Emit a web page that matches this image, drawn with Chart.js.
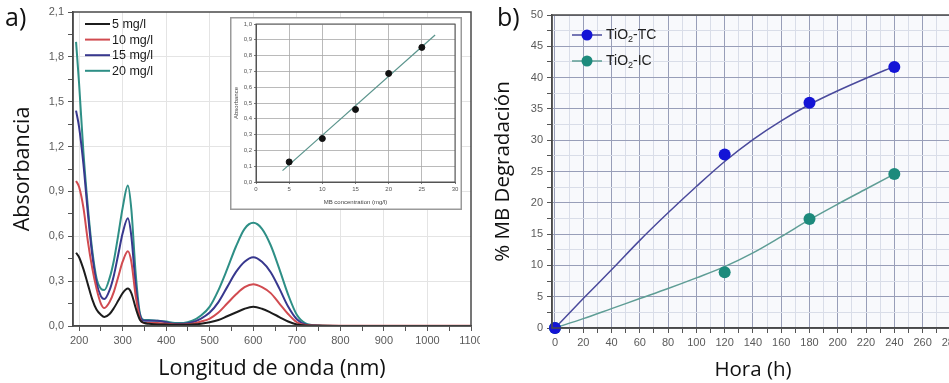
<!DOCTYPE html>
<html>
<head>
<meta charset="utf-8">
<script src="https://cdn.jsdelivr.net/npm/chart.js@4.4.0/dist/chart.umd.min.js"></script>
<style>
  html, body { margin: 0; padding: 0; background: #fff; width: 949px; height: 383px; overflow: hidden; position: relative; }
  canvas { position: absolute; display: block; }
  #spectra { left: 0; top: 0; }
  #calibration { left: 230px; top: 17px; }
  #degradation { left: 480px; top: 0; }
  .tag { position: absolute; font-family: "Open Sans", sans-serif; font-size: 25px; color: #111; line-height: 1; }
</style>
</head>
<body>
<canvas id="spectra" width="480" height="383"></canvas>
<canvas id="degradation" width="480" height="383"></canvas>
<canvas id="calibration" width="232" height="193"></canvas>
<div class="tag" style="left:5px;top:4px;">a)</div>
<div class="tag" style="left:497px;top:4px;">b)</div>
<script>
// ---- (a) UV-Vis absorption spectra of methylene blue ----
const wavelengths = [193, 200, 210, 220, 230, 240, 250, 258,
  270, 280, 290, 300, 312, 320, 330, 340, 350,
  360, 380, 400, 420, 440, 460,
  480, 500, 520, 540, 560, 580, 600,
  620, 640, 660, 680, 700, 720,
  750, 800, 900, 1000, 1100];
const abs5mg = [0.49, 0.46, 0.38, 0.28, 0.18, 0.11, 0.075, 0.06,
  0.08, 0.12, 0.17, 0.22, 0.25, 0.22, 0.12, 0.04, 0.02,
  0.015, 0.01, 0.01, 0.008, 0.008, 0.01,
  0.015, 0.025, 0.04, 0.065, 0.09, 0.115, 0.128,
  0.115, 0.09, 0.06, 0.03, 0.01, 0.003,
  0.001, 0, 0, 0, 0];
const abs10mg = [0.97, 0.93, 0.79, 0.57, 0.39, 0.25, 0.15, 0.12,
  0.16, 0.23, 0.33, 0.43, 0.50, 0.43, 0.20, 0.05, 0.02,
  0.02, 0.02, 0.015, 0.01, 0.01, 0.015,
  0.03, 0.05, 0.09, 0.15, 0.21, 0.26, 0.28,
  0.26, 0.22, 0.15, 0.08, 0.025, 0.006,
  0.003, 0.002, 0.002, 0.002, 0.002];
const abs15mg = [1.44, 1.33, 1.08, 0.76, 0.48, 0.29, 0.20, 0.18,
  0.24, 0.34, 0.48, 0.62, 0.72, 0.60, 0.27, 0.07, 0.035,
  0.035, 0.035, 0.025, 0.015, 0.015, 0.025,
  0.05, 0.09, 0.16, 0.26, 0.36, 0.43, 0.46,
  0.43, 0.36, 0.25, 0.13, 0.045, 0.01,
  0.002, 0, 0, 0, 0];
const abs20mg = [1.90, 1.62, 1.16, 0.80, 0.51, 0.32, 0.25, 0.24,
  0.32, 0.44, 0.61, 0.79, 0.94, 0.78, 0.35, 0.08, 0.04,
  0.04, 0.035, 0.03, 0.02, 0.02, 0.035,
  0.07, 0.13, 0.24, 0.38, 0.53, 0.65, 0.69,
  0.65, 0.54, 0.38, 0.21, 0.075, 0.018,
  0.003, 0, 0, 0, 0];
const spectraLabels = ['5 mg/l', '10 mg/l', '15 mg/l', '20 mg/l'];
const spectraColors = ['#1c1c1c', '#d14b50', '#38388e', '#2e8f86'];

// ---- calibration inset ----
const concentrations = [5, 10, 15, 20, 25];
const calibrationAbs = [0.127, 0.275, 0.459, 0.687, 0.852];
const fitConc = [4, 27];
const fitAbs = [0.072, 0.93];

// ---- (b) photocatalytic degradation ----
const hours = [0, 120, 180, 240];
const degradationTC = [0, 27.7, 36.0, 41.7];
const degradationIC = [0, 8.9, 17.4, 24.6];
const curveHours = [0, 20, 40, 60, 80, 100, 120, 140, 160, 180, 200, 220, 240];
const curveTC = [0, 4.7, 9.3, 14.0, 18.4, 22.6, 26.6, 30.1, 33.1, 35.7, 37.9, 39.9, 41.8];
const curveIC = [0, 1.5, 3.1, 4.7, 6.3, 8.0, 9.8, 12.0, 14.6, 17.3, 19.8, 22.2, 24.6];
const degradationLabels = ['TC', 'IC'];
const markerColors = ['#1414d6', '#1d8a7c'];
const curveColors = ['#4a4a9c', '#5e9d95'];

const TICK_FONT = { family: '"Liberation Sans", Arial, sans-serif', size: 11 };
const TITLE_A = { family: '"Open Sans", sans-serif', size: 21.5 };
const TITLE_B = { family: '"Open Sans", sans-serif', size: 20.5 };

function stepTicks(from, to, step) {
  const out = [];
  const n = Math.round((to - from) / step);
  for (let i = 0; i <= n; i++) out.push({ value: +(from + i * step).toFixed(4) });
  return out;
}
function fixBox(size, dim) {
  return function (scale) {
    scale[dim] = size;
    scale.paddingLeft = scale.paddingRight = scale.paddingTop = scale.paddingBottom = 0;
  };
}
const comma = v => v.toFixed(1).replace('.', ',');

// plot-area background and frame
const framePlugin = {
  id: 'frame',
  beforeDraw(chart, args, opts) {
    const { ctx, chartArea: a } = chart;
    ctx.save();
    if (opts.canvasFill) { ctx.fillStyle = opts.canvasFill; ctx.fillRect(0, 0, chart.width, chart.height); }
    if (opts.fill) { ctx.fillStyle = opts.fill; ctx.fillRect(a.left, a.top, a.width, a.height); }
    ctx.restore();
  },
  afterDraw(chart, args, opts) {
    const { ctx, chartArea: a } = chart;
    ctx.save();
    ctx.strokeStyle = opts.color || '#444';
    ctx.lineWidth = opts.width || 1.5;
    ctx.strokeRect(a.left, a.top, a.width, a.height);
    if (opts.outer) {
      ctx.strokeStyle = opts.outer;
      ctx.lineWidth = 1.5;
      ctx.strokeRect(0.75, 0.75, chart.width - 1.5, chart.height - 1.5);
    }
    ctx.restore();
  }
};

// legend of the spectra panel
const spectraLegend = {
  id: 'spectraLegend',
  afterDraw(chart) {
    const ctx = chart.ctx;
    ctx.save();
    ctx.font = '12.5px "Liberation Sans", Arial, sans-serif';
    ctx.textBaseline = 'middle';
    spectraLabels.forEach((label, i) => {
      const y = 24 + i * 15.6;
      ctx.strokeStyle = spectraColors[i];
      ctx.lineWidth = 2;
      ctx.beginPath(); ctx.moveTo(85, y); ctx.lineTo(110, y); ctx.stroke();
      ctx.fillStyle = '#1a1a1a';
      ctx.fillText(label, 112, y + 0.5);
    });
    ctx.restore();
  }
};

// legend of the degradation panel (line with marker, TiO2 with subscript)
const degradationLegend = {
  id: 'degradationLegend',
  afterDraw(chart) {
    const ctx = chart.ctx;
    ctx.save();
    ctx.textBaseline = 'middle';
    degradationLabels.forEach((suffix, i) => {
      const y = 35 + i * 26;
      ctx.strokeStyle = curveColors[i];
      ctx.lineWidth = 1.5;
      ctx.beginPath(); ctx.moveTo(92, y); ctx.lineTo(122, y); ctx.stroke();
      ctx.fillStyle = markerColors[i];
      ctx.beginPath(); ctx.arc(107, y, 5.5, 0, Math.PI * 2); ctx.fill();
      ctx.fillStyle = '#222';
      let x = 126;
      ctx.font = '14px "Liberation Sans", Arial, sans-serif';
      ctx.fillText('TiO', x, y); x += ctx.measureText('TiO').width;
      ctx.font = '9px "Liberation Sans", Arial, sans-serif';
      ctx.fillText('2', x, y + 5); x += ctx.measureText('2').width;
      ctx.font = '14px "Liberation Sans", Arial, sans-serif';
      ctx.fillText('-' + suffix, x, y);
    });
    ctx.restore();
  }
};

const spectraSets = [abs5mg, abs10mg, abs15mg, abs20mg].map((vals, i) => ({
  label: spectraLabels[i],
  data: wavelengths.map((w, j) => ({ x: w, y: vals[j] })),
  borderColor: spectraColors[i],
  borderWidth: 2,
  pointRadius: 0,
  cubicInterpolationMode: 'monotone',
  fill: false
}));

new Chart(document.getElementById('spectra'), {
  type: 'line',
  data: { datasets: spectraSets },
  plugins: [framePlugin, spectraLegend],
  options: {
    responsive: false, animation: false, events: [],
    layout: { padding: { left: 0, top: 12, right: 9, bottom: 0 } },
    plugins: { legend: { display: false }, tooltip: { enabled: false },
      frame: { color: '#4a4a4a', width: 1.5 } },
    scales: {
      x: {
        type: 'linear', min: 186, max: 1100,
        afterBuildTicks: s => { s.ticks = stepTicks(200, 1100, 50); },
        afterFit: fixBox(57, 'height'),
        ticks: { autoSkip: false, maxRotation: 0, font: TICK_FONT, color: '#5a5a5a', padding: 3,
          callback: v => (v % 100 === 0 ? String(v) : '') },
        grid: { color: c => (c.tick && c.tick.value % 100 === 0 && c.tick.value < 1100 ? '#e4e4e4' : 'rgba(0,0,0,0)'),
          tickColor: '#555', tickLength: 5, lineWidth: 1 },
        border: { color: '#4a4a4a', width: 1.5 },
        title: { display: true, text: 'Longitud de onda (nm)', font: TITLE_A, color: '#111', padding: { top: 0, bottom: 1 } }
      },
      y: {
        type: 'linear', min: 0, max: 2.1,
        afterBuildTicks: s => { s.ticks = stepTicks(0, 2.1, 0.15); },
        afterFit: fixBox(73, 'width'),
        ticks: { autoSkip: false, font: TICK_FONT, color: '#5a5a5a', padding: 4,
          callback: (v, i) => (i % 2 === 0 ? comma(v) : '') },
        grid: { color: c => (c.index % 2 === 0 && c.index > 0 && c.index < 14 ? '#e4e4e4' : 'rgba(0,0,0,0)'),
          tickColor: '#555', tickLength: 5 },
        border: { color: '#4a4a4a', width: 1.5 },
        title: { display: true, text: 'Absorbancia', font: TITLE_A, color: '#111', padding: { top: 10, bottom: 0 } }
      }
    }
  }
});

// calibration inset
const INSET_FONT = { family: '"Liberation Sans", Arial, sans-serif', size: 6 };
new Chart(document.getElementById('calibration'), {
  type: 'scatter',
  data: {
    datasets: [
      { label: 'MB', data: concentrations.map((c, i) => ({ x: c, y: calibrationAbs[i] })),
        backgroundColor: '#111', borderColor: '#111', pointRadius: 3 },
      { label: 'fit', data: fitConc.map((c, i) => ({ x: c, y: fitAbs[i] })), showLine: true,
        borderColor: '#5a948c', borderWidth: 1.2, pointRadius: 0 }
    ]
  },
  plugins: [framePlugin],
  options: {
    responsive: false, animation: false, events: [],
    layout: { padding: { left: 0, top: 7, right: 7, bottom: 0 } },
    plugins: { legend: { display: false }, tooltip: { enabled: false },
      frame: { color: '#555', width: 1, canvasFill: '#fff', outer: '#9a9a9a' } },
    scales: {
      x: {
        type: 'linear', min: 0, max: 30,
        afterBuildTicks: s => { s.ticks = stepTicks(0, 30, 5); },
        afterFit: fixBox(28, 'height'),
        ticks: { autoSkip: false, maxRotation: 0, font: INSET_FONT, color: '#555', padding: 2 },
        grid: { color: '#a8a8a8', lineWidth: 0.8, tickColor: '#555', tickLength: 2 },
        border: { color: '#555', width: 1 },
        title: { display: true, text: 'MB concentration (mg/l)', font: INSET_FONT, color: '#444', padding: { top: 0, bottom: 4 } }
      },
      y: {
        type: 'linear', min: 0, max: 1,
        afterBuildTicks: s => { s.ticks = stepTicks(0, 1, 0.1); },
        afterFit: fixBox(26, 'width'),
        ticks: { autoSkip: false, font: INSET_FONT, color: '#555', padding: 2, callback: v => comma(v) },
        grid: { color: '#a8a8a8', lineWidth: 0.8, tickColor: '#555', tickLength: 2 },
        border: { color: '#555', width: 1 },
        title: { display: true, text: 'Absorbance', font: INSET_FONT, color: '#444', padding: { top: 3, bottom: 0 } }
      }
    }
  }
});

// degradation panel; datasets listed first are painted on top
const markerSets = [degradationTC, degradationIC].map((vals, i) => ({
  label: 'TiO2-' + degradationLabels[i], data: hours.map((h, j) => ({ x: h, y: vals[j] })),
  showLine: false, pointRadius: 6, backgroundColor: markerColors[i], borderColor: markerColors[i],
  borderWidth: 0, clip: false
}));
const curveSets = [curveTC, curveIC].map((vals, i) => ({
  label: 'curve ' + degradationLabels[i], data: curveHours.map((h, j) => ({ x: h, y: vals[j] })),
  borderColor: curveColors[i], borderWidth: 1.5, pointRadius: 0, showLine: true,
  cubicInterpolationMode: 'monotone', fill: false
}));

new Chart(document.getElementById('degradation'), {
  type: 'scatter',
  data: { datasets: [markerSets[0], markerSets[1], curveSets[0], curveSets[1]] },
  plugins: [framePlugin, degradationLegend],
  options: {
    responsive: false, animation: false, events: [],
    layout: { padding: { left: 0, top: 15, right: 0, bottom: 0 } },
    plugins: { legend: { display: false }, tooltip: { enabled: false },
      frame: { color: '#4a4a4a', width: 1.5, fill: '#f8f9fc' } },
    scales: {
      x: {
        type: 'linear', min: -2.1, max: 282.2,
        afterBuildTicks: s => { s.ticks = stepTicks(0, 280, 10); },
        afterFit: fixBox(55, 'height'),
        ticks: { autoSkip: false, maxRotation: 0, font: TICK_FONT, color: '#5a5a5a', padding: 3,
          callback: v => (v % 20 === 0 ? String(v) : '') },
        grid: { color: c => (c.tick && c.tick.value % 20 === 0 ? '#989eb8' : '#d9dde8'),
          tickColor: '#555', tickLength: 5 },
        border: { color: '#4a4a4a', width: 1.5 },
        title: { display: true, text: 'Hora (h)', font: TITLE_B, color: '#111', padding: { top: 0, bottom: 1 } }
      },
      y: {
        type: 'linear', min: 0, max: 50,
        afterBuildTicks: s => { s.ticks = stepTicks(0, 50, 2.5); },
        afterFit: fixBox(72, 'width'),
        ticks: { autoSkip: false, font: TICK_FONT, color: '#5a5a5a', padding: 4,
          callback: v => (v % 5 === 0 ? String(v) : '') },
        grid: { color: c => (c.tick && c.tick.value % 5 === 0 ? '#989eb8' : '#d9dde8'),
          tickColor: '#555', tickLength: 5 },
        border: { color: '#4a4a4a', width: 1.5 },
        title: { display: true, text: '% MB Degradación', font: TITLE_B, color: '#111', padding: { top: 11, bottom: 0 } }
      }
    }
  }
});
</script>
</body>
</html>
